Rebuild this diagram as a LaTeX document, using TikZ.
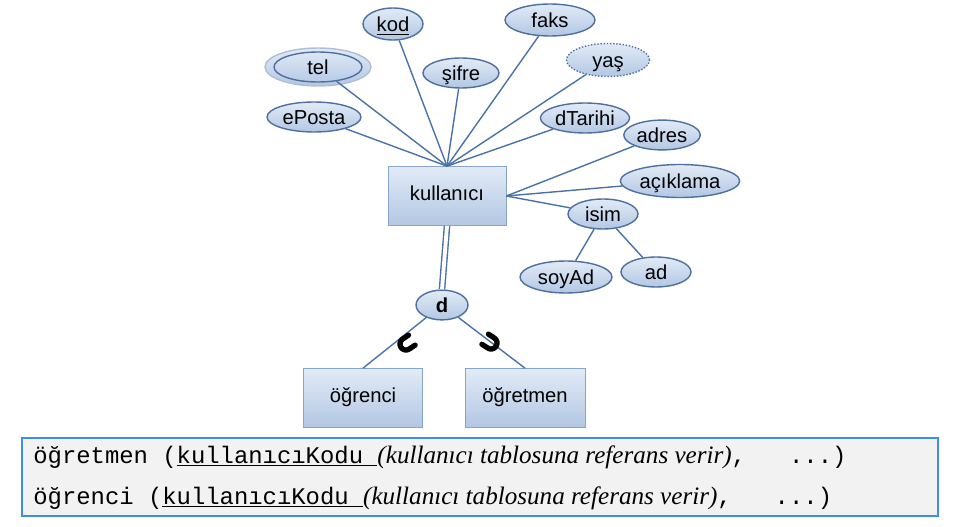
\documentclass[tikz,border=0pt]{standalone}
\usepackage{fontspec}
\setmainfont{Liberation Sans}
\setmonofont{Liberation Mono}
\newfontfamily\refserif{Liberation Serif}
\usetikzlibrary{positioning, shapes.geometric, calc}
\definecolor{attrline}{HTML}{4F6F9F}
\definecolor{attrtop}{HTML}{E2EBF6}
\definecolor{attrbot}{HTML}{B2C7E4}
\definecolor{entline}{HTML}{86A4CC}
\definecolor{linkblue}{HTML}{4A72A8}
\definecolor{codeframe}{HTML}{3D8EE8}
\definecolor{codefill}{HTML}{F2F2F2}

\begin{document}
\begin{tikzpicture}[
      x=0.02cm, y=0.02cm,
      every node/.style={font=\fontsize{11.5}{13}\selectfont, inner sep=1pt, text height=8.3pt, text depth=2.8pt},
      attr/.style={ellipse, draw=attrline, thick, top color=attrtop, bottom color=attrbot, minimum width=#1, minimum height=0.6cm, text height=9.5pt, text depth=0.5pt},
      attr/.default=1.6cm,
      ent/.style={draw=entline, thin, top color=attrtop, bottom color=attrbot, minimum width=2.38cm, minimum height=1.18cm},
      link/.style={draw=linkblue, thick},
      subsetcup/.style={line width=3pt, black, line cap=round},
      codeline/.style={anchor=base west, inner sep=0pt, text height=, text depth=, font=\fontsize{13.6}{16}\selectfont\ttfamily},
    ]
    \useasboundingbox (0,0) rectangle (960,-527);

    % Entity
    \node[ent, minimum width=2.36cm] (kul) at (447,-196) {kullanıcı};

    % Attributes above
    \node[attr=1.2cm, minimum height=0.64cm] (kod) at (393,-24) {\underline{kod}};
    \node[attr=1.8cm, minimum height=0.64cm] (faks) at (550,-20) {faks};
    \node[ellipse, draw=attrline!45, thick, top color=attrtop, bottom color=attrbot, minimum width=2.12cm, minimum height=0.76cm] (tel) at (318,-67) {};
    \node[ellipse, draw=attrline, thick, minimum width=1.76cm, minimum height=0.6cm, text height=9.5pt, text depth=0.5pt] (telin) at (tel.center) {tel};
    \node[attr=1.52cm] (sifre) at (461,-73) {şifre};
    \node[attr=1.66cm, minimum height=0.66cm, densely dotted] (yas) at (608,-60) {yaş};
    \node[attr=1.8cm] (eposta) at (314,-117) {ePosta};
    \node[attr=1.68cm] (dtarihi) at (585,-118) {dTarihi};

    % Attributes on the right
    \node[attr=1.52cm, minimum height=0.56cm] (adres) at (662,-135) {adres};
    \node[attr=2.12cm, minimum height=0.66cm] (aciklama) at (680,-181) {açıklama};
    \node[attr=1.4cm] (isim) at (603,-214) {isim};
    \node[attr=1.84cm, minimum height=0.64cm] (soyad) at (566,-277) {soyAd};
    \node[attr=1.4cm] (ad) at (656,-272) {ad};

    % Links to attributes
    \foreach \a in {eposta, telin, kod, sifre, faks, yas, dtarihi}
      \draw[link] (kul.north) -- (\a);
    \foreach \a in {adres, aciklama, isim}
      \draw[link] (kul.east) -- (\a);
    \draw[link] (isim) -- (soyad);
    \draw[link] (isim) -- (ad);

    % Specialisation
    \node[attr=1.04cm, minimum height=0.56cm, font=\fontsize{11.5}{13}\selectfont\bfseries] (dis) at (442,-305) {d};
    \node[ent] (ogrenci) at (363,-398) {öğrenci};
    \node[ent, minimum width=2.4cm] (ogretmen) at (525,-398) {öğretmen};
    \draw[draw=linkblue, thick, double, double distance=2.2pt] (kul.south) -- (dis.north);
    \draw[link] (dis) -- (ogrenci.north);
    \draw[link] (dis) -- (ogretmen.north);

    % Subset marks
    \begin{scope}[shift={(406,-344)}, rotate=33.5]
      \draw[subsetcup] (7,6) -- (0,6) arc[start angle=90, end angle=270, radius=6] -- (7,-6);
    \end{scope}
    \begin{scope}[shift={(491,-343)}, rotate=147]
      \draw[subsetcup] (7,6) -- (0,6) arc[start angle=90, end angle=270, radius=6] -- (7,-6);
    \end{scope}

    % Relation schema
    \node[draw=codeframe, fill=codefill, line width=0.9pt, minimum width=18.32cm, minimum height=1.56cm, inner sep=0pt, text height=, text depth=] (schema) at (480,-477) {};
    \node[codeline] (rowa) at (33,-463)
      {öğretmen (\underline{kullanıcıKodu\ }{\fontsize{14.3}{16}\selectfont\refserif\itshape(kullanıcı tablosuna referans verir)},\ \ \ ...)};
    \node[codeline] (rowb) at (33,-504)
      {öğrenci (\underline{kullanıcıKodu\ }{\fontsize{14.3}{16}\selectfont\refserif\itshape(kullanıcı tablosuna referans verir)},\ \ \ ...)};
  \end{tikzpicture}
\end{document}
